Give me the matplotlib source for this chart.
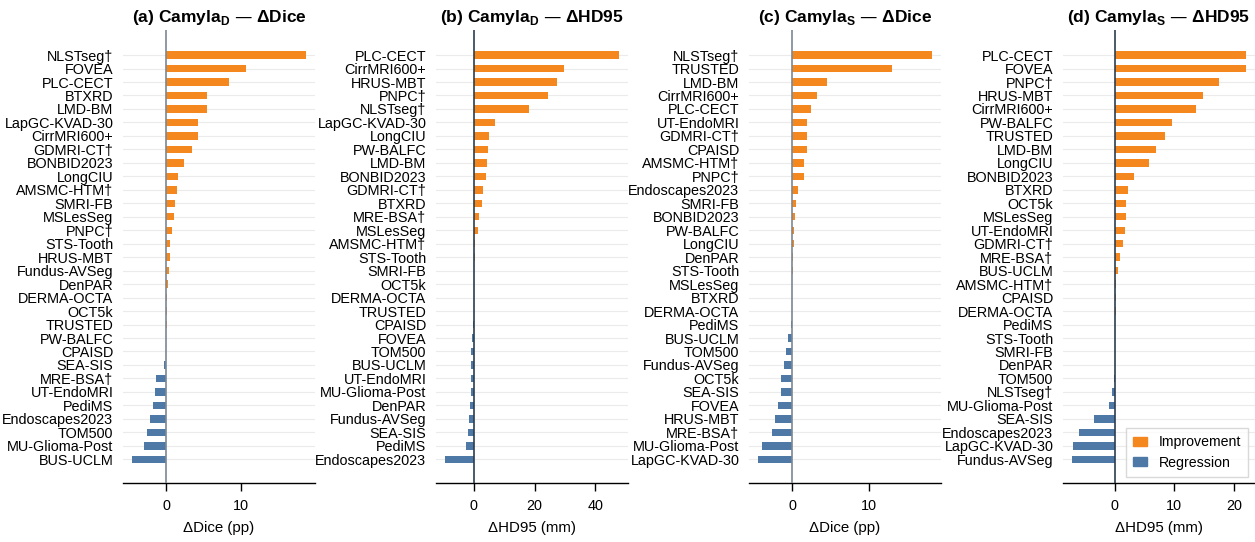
import numpy as np
import matplotlib.pyplot as plt
from matplotlib.patches import Patch

plt.rcParams['font.family'] = ['Liberation Sans', 'DejaVu Sans']

### data, top to bottom as shown
a_names = ["NLSTseg†", "FOVEA", "PLC-CECT", "BTXRD", "LMD-BM", "LapGC-KVAD-30", "CirrMRI600+",
           "GDMRI-CT†", "BONBID2023", "LongCIU", "AMSMC-HTM†", "SMRI-FB", "MSLesSeg", "PNPC†",
           "STS-Tooth", "HRUS-MBT", "Fundus-AVSeg", "DenPAR", "DERMA-OCTA", "OCT5k", "TRUSTED",
           "PW-BALFC", "CPAISD", "SEA-SIS", "MRE-BSA†", "UT-EndoMRI", "PediMS", "Endoscapes2023",
           "TOM500", "MU-Glioma-Post", "BUS-UCLM"]
a_vals = [18.7, 10.6, 8.4, 5.5, 5.4, 4.3, 4.3, 3.4, 2.4, 1.6, 1.4, 1.2, 1.1, 0.8, 0.5, 0.5, 0.4,
          0.3, 0.15, 0.1, 0.05, -0.02, -0.03, -0.25, -1.4, -1.55, -1.7, -2.2, -2.5, -3.0, -4.6]

b_names = ["PLC-CECT", "CirrMRI600+", "HRUS-MBT", "PNPC†", "NLSTseg†", "LapGC-KVAD-30", "LongCIU",
           "PW-BALFC", "LMD-BM", "BONBID2023", "GDMRI-CT†", "BTXRD", "MRE-BSA†", "MSLesSeg",
           "AMSMC-HTM†", "STS-Tooth", "SMRI-FB", "OCT5k", "DERMA-OCTA", "TRUSTED", "CPAISD",
           "FOVEA", "TOM500", "BUS-UCLM", "UT-EndoMRI", "MU-Glioma-Post", "DenPAR", "Fundus-AVSeg",
           "SEA-SIS", "PediMS", "Endoscapes2023"]
b_vals = [47.9, 29.7, 27.4, 24.4, 18.2, 6.9, 5.0, 4.6, 4.3, 4.0, 3.0, 2.6, 1.7, 1.3, 0.3, 0.3,
          0.2, 0.2, 0.15, 0.1, -0.4, -0.7, -1.0, -1.0, -1.0, -1.0, -1.3, -1.65, -2.0, -2.6, -9.6]

c_names = ["NLSTseg†", "TRUSTED", "LMD-BM", "CirrMRI600+", "PLC-CECT", "UT-EndoMRI", "GDMRI-CT†",
           "CPAISD", "AMSMC-HTM†", "PNPC†", "Endoscapes2023", "SMRI-FB", "BONBID2023", "PW-BALFC",
           "LongCIU", "DenPAR", "STS-Tooth", "MSLesSeg", "BTXRD", "DERMA-OCTA", "PediMS",
           "BUS-UCLM", "TOM500", "Fundus-AVSeg", "OCT5k", "SEA-SIS", "FOVEA", "HRUS-MBT",
           "MRE-BSA†", "MU-Glioma-Post", "LapGC-KVAD-30"]
c_vals = [18.3, 13.1, 4.6, 3.3, 2.4, 2.0, 2.0, 1.9, 1.6, 1.5, 0.7, 0.55, 0.4, 0.3, 0.3, 0.1,
          0.05, 0.02, 0.01, -0.02, -0.2, -0.5, -0.75, -1.1, -1.5, -1.5, -1.8, -2.3, -2.7, -3.9, -4.5]

d_names = ["PLC-CECT", "FOVEA", "PNPC†", "HRUS-MBT", "CirrMRI600+", "PW-BALFC", "TRUSTED", "LMD-BM",
           "LongCIU", "BONBID2023", "BTXRD", "OCT5k", "MSLesSeg", "UT-EndoMRI", "GDMRI-CT†",
           "MRE-BSA†", "BUS-UCLM", "AMSMC-HTM†", "CPAISD", "DERMA-OCTA", "PediMS", "STS-Tooth",
           "SMRI-FB", "DenPAR", "TOM500", "NLSTseg†", "MU-Glioma-Post", "SEA-SIS",
           "Endoscapes2023", "LapGC-KVAD-30", "Fundus-AVSeg"]
d_vals = [22.1, 22.0, 17.6, 14.9, 13.6, 9.55, 8.4, 7.0, 5.7, 3.2, 2.2, 1.85, 1.85, 1.7, 1.35,
          0.85, 0.65, 0.3, 0.3, 0.3, 0.1, 0.1, 0.1, 0.02, -0.02, -0.5, -1.0, -3.4, -6.0, -7.0, -7.2]

titles = [r"(a) Camyla$_\mathregular{D}$ — ΔDice", r"(b) Camyla$_\mathregular{D}$ — ΔHD95",
          r"(c) Camyla$_\mathregular{S}$ — ΔDice", r"(d) Camyla$_\mathregular{S}$ — ΔHD95"]
xlabels = ["ΔDice (pp)", "ΔHD95 (mm)", "ΔDice (pp)", "ΔHD95 (mm)"]
xticks = [[0, 10], [0, 20, 40], [0, 10], [0, 10, 20]]

ORANGE = "#f5871f"
BLUE = "#4e79a7"

fig = plt.figure(figsize=(12.55, 5.42), dpi=100)
W, H = 1255, 542
lefts = [123, 436, 749, 1063]
panels = [(a_names, a_vals), (b_names, b_vals), (c_names, c_vals), (d_names, d_vals)]
zcols = ["#7b8794", "#2c3e50", "#7b8794", "#2c3e50"]

for i, (names, vals) in enumerate(panels):
    ax = fig.add_axes([lefts[i] / W, 1 - 483 / H, 192 / W, (483 - 30) / H])
    vals = np.array(vals)
    y = np.arange(len(names))
    cols = [ORANGE if v > 0 else BLUE for v in vals]
    ax.barh(y, vals, height=0.55, color=cols, zorder=2)
    ax.axvline(0, color=zcols[i], lw=1.2, zorder=3)
    ax.set_yticks(y)
    ax.set_yticklabels(names, fontsize=10.4)
    ax.set_ylim(len(names) - 1 + 1.76, -1.86)
    ax.set_xticks(xticks[i])
    ax.tick_params(axis='y', length=0, pad=7)
    ax.tick_params(axis='x', labelsize=10.4, length=5.5, width=1.0, pad=6)
    for s in ['top', 'right', 'left']:
        ax.spines[s].set_visible(False)
    ax.spines['bottom'].set_linewidth(1.0)
    ax.grid(axis='y', color='#ebebeb', lw=0.8, zorder=0)
    ax.set_axisbelow(True)
    ax.set_xlabel(xlabels[i], fontsize=10.8, labelpad=6)
    ax.set_title(titles[i], fontsize=12.5, fontweight='bold', pad=6)

handles = [Patch(color=ORANGE, label="Improvement"), Patch(color=BLUE, label="Regression")]
ax.legend(handles=handles, loc='lower right', fontsize=10.2, frameon=True,
          edgecolor='#d0d0d0', fancybox=False, handlelength=1.0, handleheight=0.6,
          borderpad=0.5, labelspacing=0.45, borderaxespad=0,
          bbox_to_anchor=(0.964, 0.014))

fig.savefig("out.png", dpi=100)
